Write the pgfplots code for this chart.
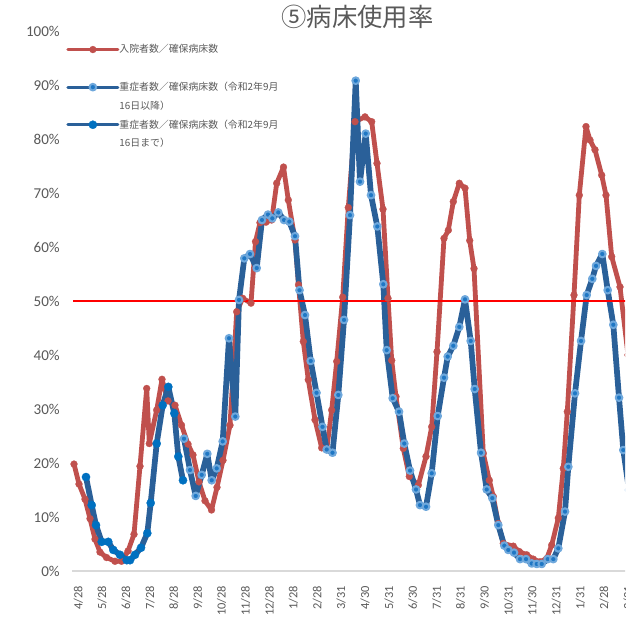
\documentclass[border=0pt]{standalone}
\usepackage{pgfplots}
\pgfplotsset{compat=1.18}
\usepackage{fontspec}
\setmainfont{Carlito}
\newfontfamily\jp{Noto Sans CJK JP}
\definecolor{redS}{HTML}{C0504D}
\definecolor{blueL}{HTML}{2A6099}
\definecolor{ringL}{HTML}{6FA8DC}
\definecolor{ringC}{HTML}{1F77C4}
\definecolor{preC}{HTML}{0070C0}
\definecolor{tick}{HTML}{595959}
\definecolor{axl}{HTML}{D9D9D9}
\begin{document}
\begin{tikzpicture}
\useasboundingbox (0,0) rectangle (468.75pt,481.5pt);
\clip (0,0) rectangle (468.75pt,481.5pt);
\node[font=\jp\fontsize{19}{21}\selectfont, text=tick] at (268pt,468.75pt) {⑤病床使用率};
\begin{axis}[
  at={(54pt,53.25pt)}, anchor=south west,
  scale only axis, width=456pt, height=405pt,
  xmin=72, xmax=680, ymin=0, ymax=100,
  axis lines*=left,
  y axis line style={draw=none},
  x axis line style={draw=axl, line width=1.3pt},
  major tick length=0pt,
  /pgf/number format/assume math mode=true,
  ytick={0,10,20,30,40,50,60,70,80,90,100},
  yticklabel={\pgfmathprintnumber{\tick}\%},
  yticklabel style={font=\fontsize{11.3}{12}\selectfont, text=tick, inner sep=0pt, anchor=east, xshift=-9pt},
  xtick={78.3,102.2,126.1,150.0,173.9,197.8,221.7,245.6,269.5,293.4,317.3,341.2,365.1,389.0,412.9,436.8,460.7,484.6,508.5,532.4,556.3,580.2,604.1,628.0},
  xticklabels={4/28,5/28,6/28,7/28,8/28,9/28,10/28,11/28,12/28,1/28,2/28,3/31,4/30,5/31,6/30,7/31,8/31,9/30,10/31,11/30,12/31,1/31,2/28,3/31},
  xticklabel style={font=\fontsize{9.3}{10}\selectfont, text=tick, inner sep=0pt, yshift=-11pt, rotate=90, anchor=east},
  legend style={at={(axis cs:66,97.6)}, anchor=north west, draw=none, fill=none,
    font=\jp\fontsize{7.4}{9}\selectfont, text=tick, row sep=6.1pt, inner sep=0pt,
    nodes={inner sep=0pt, text height=6.5pt, text depth=1.5pt},
    /tikz/every even column/.append style={column sep=4.5pt}},
  legend cell align=left,
  legend image code/.code={\draw[mark repeat=2,mark phase=2,#1,line width=2.4pt] plot coordinates {(0pt,0pt)(18.75pt,0pt)(37.5pt,0pt)};},
]
\addplot[redS, line width=3.6pt, line join=round, line cap=round, mark=*, mark size=2.6pt, mark options={fill=redS, draw=redS, line width=0.2pt}] coordinates {
(74,19.8)(79,16.1)(85,13.3)(90,9.7)(95,5.9)(100,3.5)(106.5,2.5)(115,1.8)(121.5,1.8)(128,3.7)(134,6.8)(140,19.4)(146.7,33.8)(149.3,23.6)(156.7,29.8)(162,35.5)(168,31.5)(175,30.7)(181.5,27)(188,23.5)(193,21.5)(199,16.5)(205,13)(211.5,11.3)(217,15.5)(223,20.5)(230,27)(236.7,48)(242.7,50.5)(251,49.6)(255.5,61)(260,64.5)(266,64.6)(271.7,65)(276.7,71.8)(283.5,74.8)(288.3,68.7)(295,61.3)(298.5,53)(303.3,42.5)(308.3,35.4)(315,28)(321.7,22.8)(326.7,22.5)(331.7,29.8)(336.7,38.8)(342.7,50.7)(348.3,67.3)(355,83.2)(365,84.1)(371.7,83.2)(377,75.5)(383,67)(388,50.5)(391.7,39)(396,32.3)(403.3,22.7)(409.3,17.5)(418.3,15.9)(426,21.2)(431.7,26.7)(437,40.6)(444,61.6)(448.3,63.1)(453.3,68.4)(459.3,71.8)(465,70.9)(469.7,61.2)(474,56)(483.3,21.8)(489.3,16.8)(493.3,13.8)(498.3,8.8)(503.3,5.1)(513.3,4.6)(519.3,3.6)(526.7,3)(533.3,2.2)(540,1.7)(546.7,2.3)(551.7,4.8)(558.3,9.8)(563.3,19)(567.3,29.5)(574,51.1)(579.3,69.6)(586,82.3)(590,79.8)(595,78)(601.7,73.3)(606,69.6)(611.7,58.2)(620,52.6)(628,40)
};
\addlegendentry{入院者数／確保病床数}
\addlegendimage{empty legend}
\addlegendentry{}
\addplot[blueL, line width=4.3pt, line join=round, line cap=round, mark=*, mark size=2.5pt, mark options={fill=ringC, draw=ringL, line width=1.5pt}] coordinates {
(184,24.5)(190,18.7)(195.7,13.9)(201.7,17.8)(207.3,21.7)(211.7,16.8)(216.7,19)(222.7,24)(229,43.1)(235.3,28.6)(239,50.2)(244.3,57.9)(250,58.7)(256.7,56.1)(262,65)(268,66)(272.3,65.3)(278.3,66.4)(284,65)(289.3,64.7)(295,62)(299.5,52)(305,47.4)(310.7,38.9)(316.5,33)(322.5,26.7)(326.7,22.5)(332.5,21.9)(338.3,32.6)(344,46.5)(350,65.9)(355.7,90.8)(360,72.1)(365.7,81)(371,69.6)(377.3,63.8)(383.3,53.1)(386.7,40.9)(392.7,32)(399,29.5)(404.3,23.6)(410,18.6)(416,15.1)(420,12.2)(426,11.9)(431.7,18.1)(437.7,28.7)(444,35.8)(447.7,39.7)(453.3,41.7)(459.3,45.2)(465,50.3)(470.7,42.6)(474.7,33.7)(481,21.9)(486.7,15.1)(492.3,13.5)(498.3,8.5)(504.3,4.7)(508.3,3.9)(514,3.4)(520,2.2)(526,2.2)(531.7,1.4)(536.7,1.3)(541.7,1.3)(547.7,2.2)(553.3,2.2)(558.3,4.2)(565,11)(568.3,19.3)(575,32.9)(581,42.6)(586.7,51.1)(592.3,54.1)(596,56.5)(602.3,58.7)(607.7,52)(613.3,45.6)(619,32.1)(623.3,22.4)(629,15)
};
\addlegendentry{重症者数／確保病床数（令和2年9月}
\addlegendimage{empty legend}
\addlegendentry{16日以降）}
\addplot[blueL, line width=4.3pt, line join=round, line cap=round, mark=*, mark size=3.1pt, mark options={fill=preC, draw=preC, line width=0.2pt}] coordinates {
(86,17.4)(91.7,12.2)(96,8.5)(101.7,5.4)(108.3,5.4)(113.3,3.9)(120,3)(126.7,2)(130,2)(135,3)(141,4.3)(147.3,7)(150.7,12.6)(156.7,23.6)(162.7,30.7)(168.3,34.1)(174.3,29.2)(178.3,21.2)(183,16.8)
};
\addlegendentry{重症者数／確保病床数（令和2年9月}
\addlegendimage{empty legend}
\addlegendentry{16日まで）}
\addplot[red, line width=1.8pt, forget plot] coordinates {(73,50)(680,50)};
\end{axis}
\end{tikzpicture}
\end{document}
